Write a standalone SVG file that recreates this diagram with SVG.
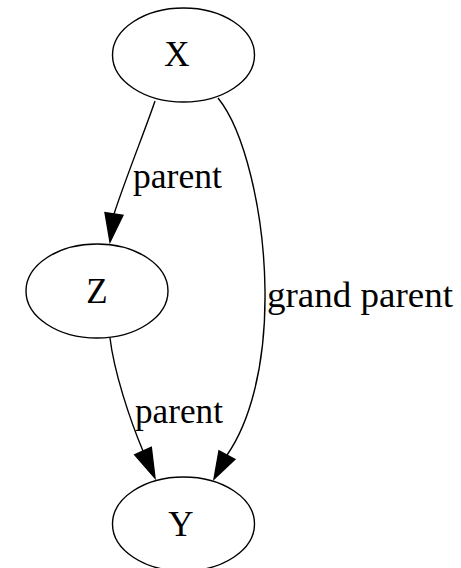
<svg xmlns="http://www.w3.org/2000/svg" width="461" height="568" viewBox="0 0 461 568">
  <style>
    .node ellipse { fill: none; stroke: #000; stroke-width: 1.4; }
    .node text { font-family: "Liberation Serif", "Times New Roman", serif; font-size: 35px; fill: #000; text-anchor: middle; }
    .edge path { fill: none; stroke: #000; stroke-width: 1.4; }
    .edge polygon { fill: #000; stroke: #000; stroke-width: 1.4; }
    .edge text { font-family: "Liberation Serif", "Times New Roman", serif; font-size: 35px; fill: #000; }
  </style>
  <rect width="461" height="568" fill="#fff"/>

  <g id="edges">
    <!-- X -> Z -->
    <g class="edge" id="edge-X-Z">
      <path d="M155,101 C147,125 125,180 114,214"/>
      <polygon points="123,215.3 110,242 105,212.7"/>
      <text x="133" y="188" textLength="89" lengthAdjust="spacingAndGlyphs">parent</text>
    </g>
    <!-- Z -> Y -->
    <g class="edge" id="edge-Z-Y">
      <path d="M110,338 C114,372 130,420 143,451"/>
      <polygon points="151.3,447.3 155,478 134.7,454.7"/>
      <text x="135" y="423" textLength="88" lengthAdjust="spacingAndGlyphs">parent</text>
    </g>
    <!-- X -> Y -->
    <g class="edge" id="edge-X-Y">
      <path d="M218,98 C244,130 264,210 265,290 C266,370 248,425 227,455"/>
      <polygon points="235,459.3 214,479 219,450.7"/>
      <text x="267" y="307" textLength="186" lengthAdjust="spacingAndGlyphs">grand parent</text>
    </g>
  </g>

  <g class="node" id="node-X">
    <ellipse cx="183.5" cy="55" rx="71" ry="47"/>
    <text x="177" y="66">X</text>
  </g>
  <g class="node" id="node-Z">
    <ellipse cx="97" cy="291" rx="71" ry="47"/>
    <text x="97" y="303">Z</text>
  </g>
  <g class="node" id="node-Y">
    <ellipse cx="183.5" cy="524" rx="71" ry="47"/>
    <text x="181" y="536">Y</text>
  </g>
</svg>
